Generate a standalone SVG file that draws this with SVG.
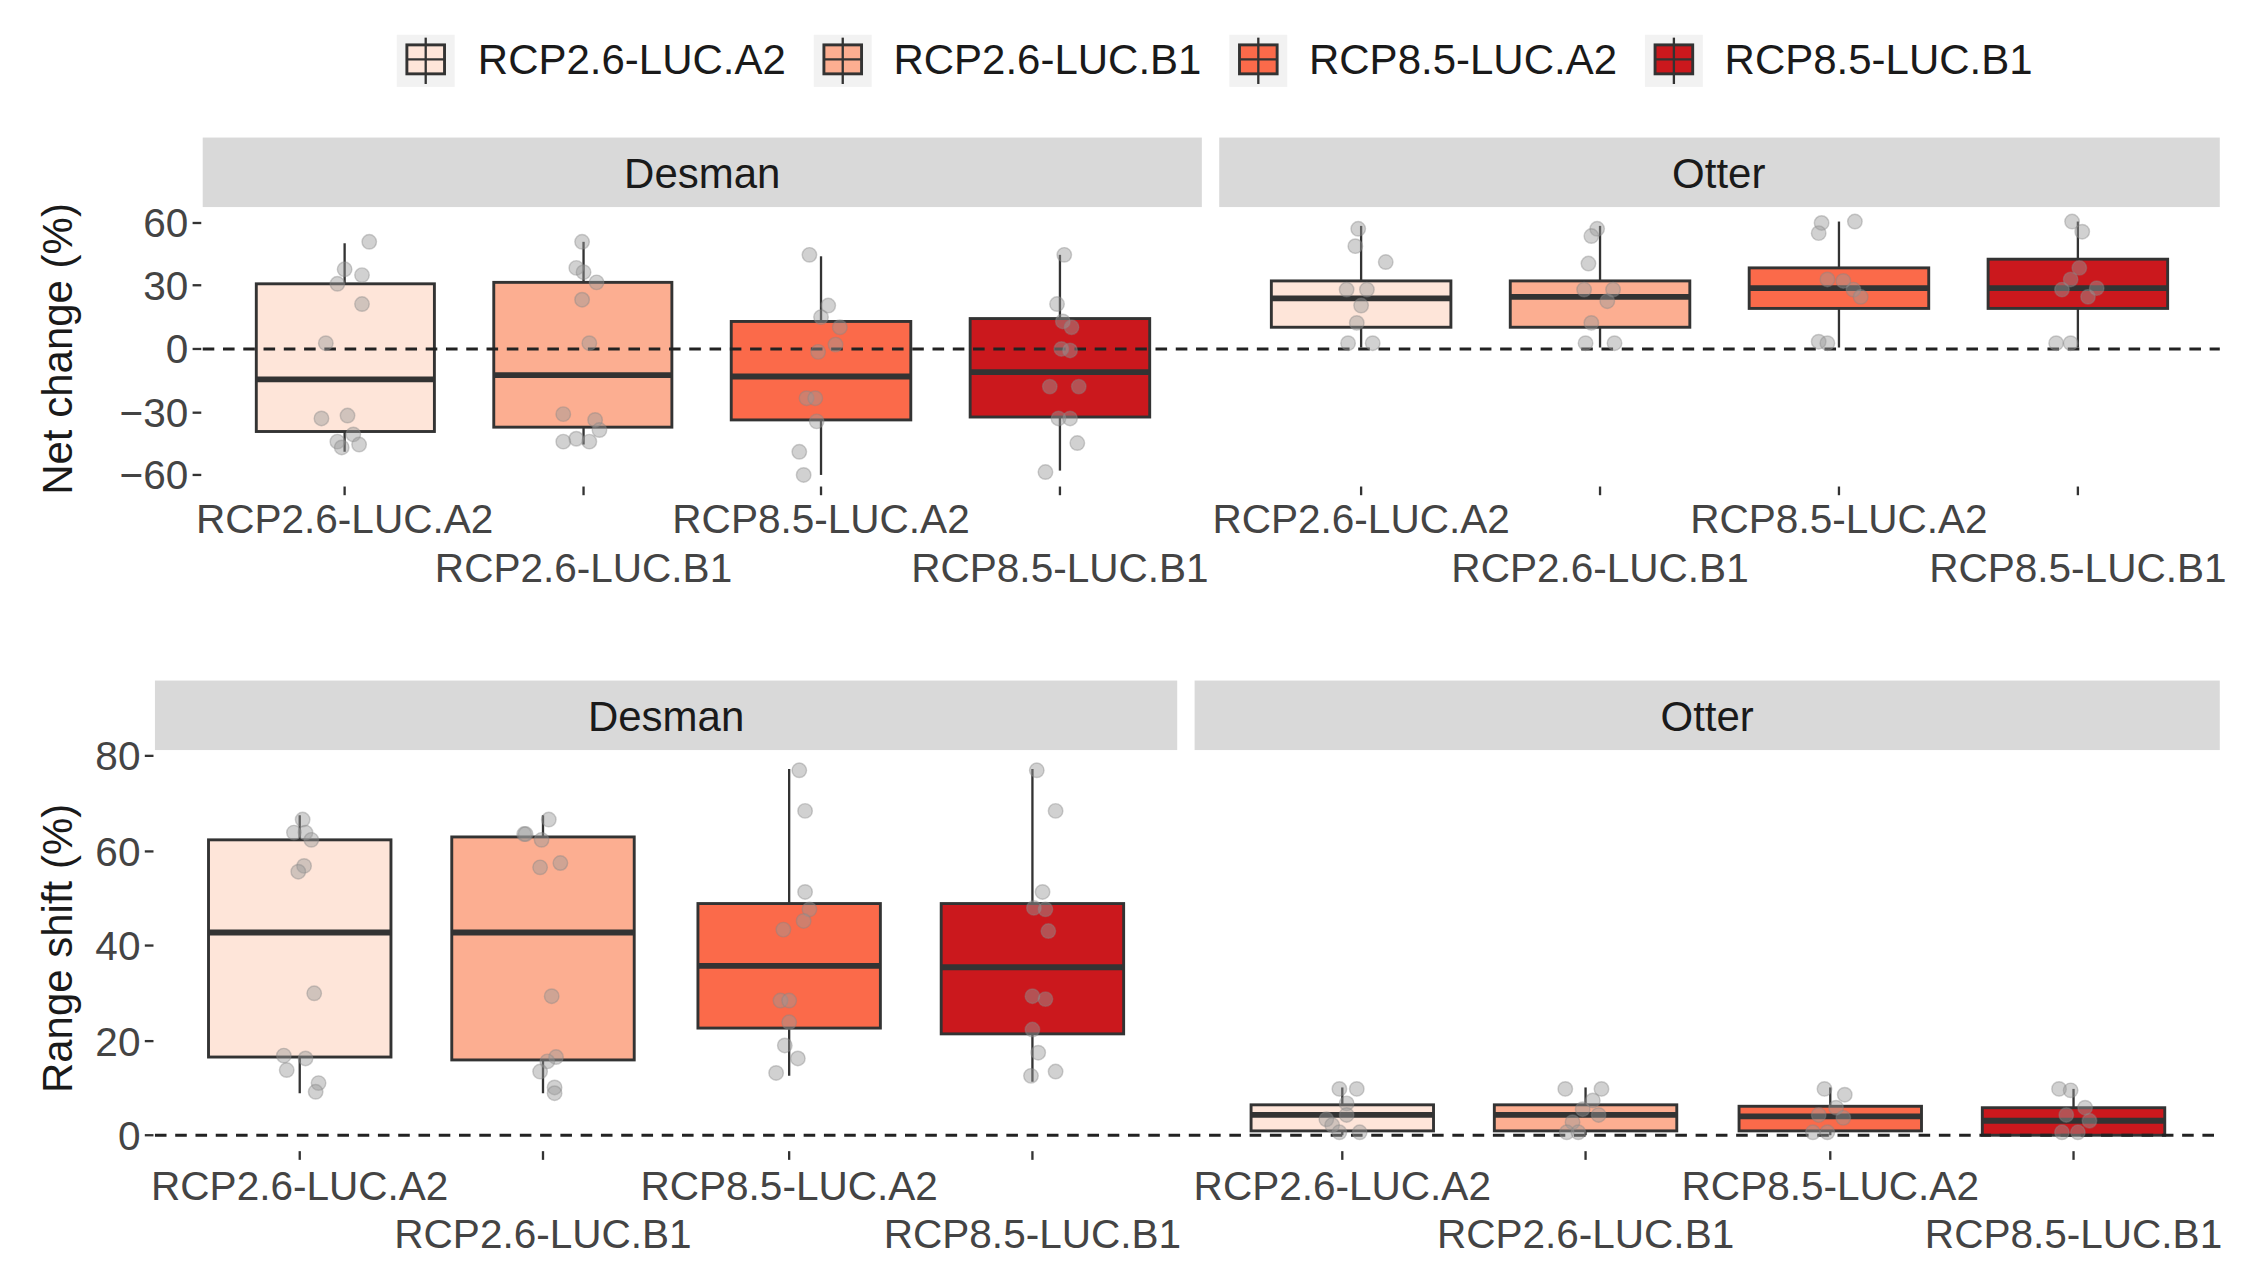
<svg xmlns="http://www.w3.org/2000/svg" width="2259" height="1281" viewBox="0 0 2259 1281">
<style>
text{font-family:"Liberation Sans",Arial,sans-serif;}
.t{font-size:28px;fill:#444;}
.s{font-size:29px;fill:#1a1a1a;}
.lg{font-size:29px;fill:#1a1a1a;}
.strip{fill:#d9d9d9;}
.b{stroke:#333;stroke-width:2;}
.med{stroke:#333;stroke-width:4;}
.w{stroke:#333;stroke-width:1.6;}
.tk{stroke:#333;stroke-width:1.6;}
.zero{stroke:#222;stroke-width:2;stroke-dasharray:8,6;fill:none;}
.p{fill:#999;fill-opacity:0.45;stroke:#888;stroke-opacity:0.4;}
.c1{fill:#FEE5D9}.c2{fill:#FCAE91}.c3{fill:#FB6A4A}.c4{fill:#CB181D}
</style>
<rect width="2259" height="1281" fill="#fff"/>
<g transform="scale(1.448)">
<g id="legend">
<rect x="274" y="24" width="40" height="36" fill="#f2f2f2"/><rect x="281" y="31" width="26" height="20" class="c1 b"/><line x1="281" y1="41" x2="307" y2="41" class="w"/><line x1="294" y1="26" x2="294" y2="58" class="w"/>
<text x="330" y="51" class="lg">RCP2.6-LUC.A2</text>
<rect x="562" y="24" width="40" height="36" fill="#f2f2f2"/><rect x="569" y="31" width="26" height="20" class="c2 b"/><line x1="569" y1="41" x2="595" y2="41" class="w"/><line x1="582" y1="26" x2="582" y2="58" class="w"/>
<text x="617" y="51" class="lg">RCP2.6-LUC.B1</text>
<rect x="849" y="24" width="40" height="36" fill="#f2f2f2"/><rect x="856" y="31" width="26" height="20" class="c3 b"/><line x1="856" y1="41" x2="882" y2="41" class="w"/><line x1="869" y1="26" x2="869" y2="58" class="w"/>
<text x="904" y="51" class="lg">RCP8.5-LUC.A2</text>
<rect x="1136" y="24" width="40" height="36" fill="#f2f2f2"/><rect x="1143" y="31" width="26" height="20" class="c4 b"/><line x1="1143" y1="41" x2="1169" y2="41" class="w"/><line x1="1156" y1="26" x2="1156" y2="58" class="w"/>
<text x="1191" y="51" class="lg">RCP8.5-LUC.B1</text>
</g>

<g id="top-panel">
<rect x="140" y="95" width="690" height="48" class="strip"/>
<text x="485" y="130" class="s" text-anchor="middle">Desman</text>
<rect x="842" y="95" width="691" height="48" class="strip"/>
<text x="1187" y="130" class="s" text-anchor="middle">Otter</text>
<text transform="translate(50,241) rotate(-90)" class="s" text-anchor="middle">Net change (%)</text>
<g class="t" text-anchor="end">
<text x="130" y="164">60</text><text x="130" y="207">30</text><text x="130" y="251">0</text><text x="130" y="295">−30</text><text x="130" y="338">−60</text>
</g>
<g class="tk"><line x1="133" y1="154" x2="139" y2="154"/><line x1="133" y1="197" x2="139" y2="197"/><line x1="133" y1="241" x2="139" y2="241"/><line x1="133" y1="285" x2="139" y2="285"/><line x1="133" y1="328" x2="139" y2="328"/>
<line x1="238" y1="336" x2="238" y2="342"/><line x1="403" y1="336" x2="403" y2="342"/><line x1="567" y1="336" x2="567" y2="342"/><line x1="732" y1="336" x2="732" y2="342"/>
<line x1="940" y1="336" x2="940" y2="342"/><line x1="1105" y1="336" x2="1105" y2="342"/><line x1="1270" y1="336" x2="1270" y2="342"/><line x1="1435" y1="336" x2="1435" y2="342"/></g>
<g class="t" text-anchor="middle">
<text x="238" y="368">RCP2.6-LUC.A2</text><text x="403" y="402">RCP2.6-LUC.B1</text><text x="567" y="368">RCP8.5-LUC.A2</text><text x="732" y="402">RCP8.5-LUC.B1</text>
<text x="940" y="368">RCP2.6-LUC.A2</text><text x="1105" y="402">RCP2.6-LUC.B1</text><text x="1270" y="368">RCP8.5-LUC.A2</text><text x="1435" y="402">RCP8.5-LUC.B1</text>
</g>
<g id="top-desman-boxes">
<line x1="238" y1="168" x2="238" y2="312" class="w"/><rect x="177" y="196" width="123" height="102" class="c1 b"/><line x1="177" y1="262" x2="300" y2="262" class="med"/>
<line x1="403" y1="167" x2="403" y2="307" class="w"/><rect x="341" y="195" width="123" height="100" class="c2 b"/><line x1="341" y1="259" x2="464" y2="259" class="med"/>
<line x1="567" y1="177" x2="567" y2="328" class="w"/><rect x="505" y="222" width="124" height="68" class="c3 b"/><line x1="505" y1="260" x2="629" y2="260" class="med"/>
<line x1="732" y1="176" x2="732" y2="325" class="w"/><rect x="670" y="220" width="124" height="68" class="c4 b"/><line x1="670" y1="257" x2="794" y2="257" class="med"/>
</g>
<g id="top-otter-boxes">
<line x1="940" y1="156" x2="940" y2="240" class="w"/><rect x="878" y="194" width="124" height="32" class="c1 b"/><line x1="878" y1="206" x2="1002" y2="206" class="med"/>
<line x1="1105" y1="156" x2="1105" y2="240" class="w"/><rect x="1043" y="194" width="124" height="32" class="c2 b"/><line x1="1043" y1="205" x2="1167" y2="205" class="med"/>
<line x1="1270" y1="153" x2="1270" y2="240" class="w"/><rect x="1208" y="185" width="124" height="28" class="c3 b"/><line x1="1208" y1="199" x2="1332" y2="199" class="med"/>
<line x1="1435" y1="153" x2="1435" y2="240" class="w"/><rect x="1373" y="179" width="124" height="34" class="c4 b"/><line x1="1373" y1="199" x2="1497" y2="199" class="med"/>
</g>
<line x1="140" y1="241" x2="1533" y2="241" class="zero"/>
<g id="top-points">
<circle cx="255" cy="167" r="5" class="p"/><circle cx="238" cy="186" r="5" class="p"/><circle cx="250" cy="190" r="5" class="p"/><circle cx="233" cy="196" r="5" class="p"/><circle cx="250" cy="210" r="5" class="p"/><circle cx="225" cy="237" r="5" class="p"/><circle cx="222" cy="289" r="5" class="p"/><circle cx="240" cy="287" r="5" class="p"/><circle cx="244" cy="300" r="5" class="p"/><circle cx="233" cy="305" r="5" class="p"/><circle cx="248" cy="307" r="5" class="p"/><circle cx="236" cy="309" r="5" class="p"/>
<circle cx="402" cy="167" r="5" class="p"/><circle cx="398" cy="185" r="5" class="p"/><circle cx="403" cy="188" r="5" class="p"/><circle cx="412" cy="195" r="5" class="p"/><circle cx="402" cy="207" r="5" class="p"/><circle cx="407" cy="237" r="5" class="p"/><circle cx="389" cy="286" r="5" class="p"/><circle cx="411" cy="290" r="5" class="p"/><circle cx="414" cy="297" r="5" class="p"/><circle cx="398" cy="303" r="5" class="p"/><circle cx="389" cy="305" r="5" class="p"/><circle cx="407" cy="305" r="5" class="p"/>
<circle cx="559" cy="176" r="5" class="p"/><circle cx="572" cy="211" r="5" class="p"/><circle cx="567" cy="219" r="5" class="p"/><circle cx="580" cy="226" r="5" class="p"/><circle cx="565" cy="243" r="5" class="p"/><circle cx="577" cy="238" r="5" class="p"/><circle cx="557" cy="275" r="5" class="p"/><circle cx="563" cy="275" r="5" class="p"/><circle cx="564" cy="291" r="5" class="p"/><circle cx="552" cy="312" r="5" class="p"/><circle cx="555" cy="328" r="5" class="p"/>
<circle cx="735" cy="176" r="5" class="p"/><circle cx="730" cy="210" r="5" class="p"/><circle cx="734" cy="222" r="5" class="p"/><circle cx="740" cy="226" r="5" class="p"/><circle cx="739" cy="242" r="5" class="p"/><circle cx="733" cy="241" r="5" class="p"/><circle cx="725" cy="267" r="5" class="p"/><circle cx="745" cy="267" r="5" class="p"/><circle cx="731" cy="289" r="5" class="p"/><circle cx="739" cy="289" r="5" class="p"/><circle cx="744" cy="306" r="5" class="p"/><circle cx="722" cy="326" r="5" class="p"/>
<circle cx="938" cy="158" r="5" class="p"/><circle cx="936" cy="170" r="5" class="p"/><circle cx="957" cy="181" r="5" class="p"/><circle cx="930" cy="200" r="5" class="p"/><circle cx="944" cy="200" r="5" class="p"/><circle cx="940" cy="211" r="5" class="p"/><circle cx="937" cy="223" r="5" class="p"/><circle cx="931" cy="237" r="5" class="p"/><circle cx="948" cy="237" r="5" class="p"/>
<circle cx="1103" cy="158" r="5" class="p"/><circle cx="1099" cy="163" r="5" class="p"/><circle cx="1097" cy="182" r="5" class="p"/><circle cx="1094" cy="200" r="5" class="p"/><circle cx="1114" cy="200" r="5" class="p"/><circle cx="1110" cy="208" r="5" class="p"/><circle cx="1099" cy="223" r="5" class="p"/><circle cx="1095" cy="237" r="5" class="p"/><circle cx="1115" cy="237" r="5" class="p"/>
<circle cx="1258" cy="154" r="5" class="p"/><circle cx="1281" cy="153" r="5" class="p"/><circle cx="1256" cy="161" r="5" class="p"/><circle cx="1262" cy="193" r="5" class="p"/><circle cx="1273" cy="194" r="5" class="p"/><circle cx="1280" cy="200" r="5" class="p"/><circle cx="1285" cy="205" r="5" class="p"/><circle cx="1256" cy="236" r="5" class="p"/><circle cx="1262" cy="237" r="5" class="p"/>
<circle cx="1431" cy="153" r="5" class="p"/><circle cx="1438" cy="160" r="5" class="p"/><circle cx="1436" cy="185" r="5" class="p"/><circle cx="1430" cy="193" r="5" class="p"/><circle cx="1424" cy="200" r="5" class="p"/><circle cx="1448" cy="199" r="5" class="p"/><circle cx="1442" cy="205" r="5" class="p"/><circle cx="1420" cy="237" r="5" class="p"/><circle cx="1430" cy="237" r="5" class="p"/>
</g>
</g>

<g id="bottom-panel">
<rect x="107" y="470" width="706" height="48" class="strip"/>
<text x="460" y="505" class="s" text-anchor="middle">Desman</text>
<rect x="825" y="470" width="708" height="48" class="strip"/>
<text x="1179" y="505" class="s" text-anchor="middle">Otter</text>
<text transform="translate(50,655) rotate(-90)" class="s" text-anchor="middle">Range shift (%)</text>
<g class="t" text-anchor="end">
<text x="97" y="532">80</text><text x="97" y="598">60</text><text x="97" y="663">40</text><text x="97" y="729">20</text><text x="97" y="794">0</text>
</g>
<g class="tk"><line x1="100" y1="522" x2="106" y2="522"/><line x1="100" y1="588" x2="106" y2="588"/><line x1="100" y1="653" x2="106" y2="653"/><line x1="100" y1="719" x2="106" y2="719"/><line x1="100" y1="784" x2="106" y2="784"/>
<line x1="207" y1="795" x2="207" y2="801"/><line x1="375" y1="795" x2="375" y2="801"/><line x1="545" y1="795" x2="545" y2="801"/><line x1="713" y1="795" x2="713" y2="801"/>
<line x1="927" y1="795" x2="927" y2="801"/><line x1="1095" y1="795" x2="1095" y2="801"/><line x1="1264" y1="795" x2="1264" y2="801"/><line x1="1432" y1="795" x2="1432" y2="801"/></g>
<g class="t" text-anchor="middle">
<text x="207" y="829">RCP2.6-LUC.A2</text><text x="375" y="862">RCP2.6-LUC.B1</text><text x="545" y="829">RCP8.5-LUC.A2</text><text x="713" y="862">RCP8.5-LUC.B1</text>
<text x="927" y="829">RCP2.6-LUC.A2</text><text x="1095" y="862">RCP2.6-LUC.B1</text><text x="1264" y="829">RCP8.5-LUC.A2</text><text x="1432" y="862">RCP8.5-LUC.B1</text>
</g>
<g id="bottom-desman-boxes">
<line x1="207" y1="563" x2="207" y2="755" class="w"/><rect x="144" y="580" width="126" height="150" class="c1 b"/><line x1="144" y1="644" x2="270" y2="644" class="med"/>
<line x1="375" y1="563" x2="375" y2="755" class="w"/><rect x="312" y="578" width="126" height="154" class="c2 b"/><line x1="312" y1="644" x2="438" y2="644" class="med"/>
<line x1="545" y1="531" x2="545" y2="743" class="w"/><rect x="482" y="624" width="126" height="86" class="c3 b"/><line x1="482" y1="667" x2="608" y2="667" class="med"/>
<line x1="713" y1="531" x2="713" y2="747" class="w"/><rect x="650" y="624" width="126" height="90" class="c4 b"/><line x1="650" y1="668" x2="776" y2="668" class="med"/>
</g>
<g id="bottom-otter-boxes">
<line x1="927" y1="751" x2="927" y2="784" class="w"/><rect x="864" y="763" width="126" height="18" class="c1 b"/><line x1="864" y1="770" x2="990" y2="770" class="med"/>
<line x1="1095" y1="751" x2="1095" y2="784" class="w"/><rect x="1032" y="763" width="126" height="18" class="c2 b"/><line x1="1032" y1="770" x2="1158" y2="770" class="med"/>
<line x1="1264" y1="751" x2="1264" y2="784" class="w"/><rect x="1201" y="764" width="126" height="17" class="c3 b"/><line x1="1201" y1="771" x2="1327" y2="771" class="med"/>
<line x1="1432" y1="752" x2="1432" y2="784" class="w"/><rect x="1369" y="765" width="126" height="19" class="c4 b"/><line x1="1369" y1="774" x2="1495" y2="774" class="med"/>
</g>
<line x1="107" y1="784" x2="1533" y2="784" class="zero"/>
<g id="bottom-points">
<circle cx="209" cy="566" r="5" class="p"/><circle cx="203" cy="575" r="5" class="p"/><circle cx="211" cy="575" r="5" class="p"/><circle cx="215" cy="580" r="5" class="p"/><circle cx="210" cy="598" r="5" class="p"/><circle cx="206" cy="602" r="5" class="p"/><circle cx="217" cy="686" r="5" class="p"/><circle cx="196" cy="729" r="5" class="p"/><circle cx="211" cy="731" r="5" class="p"/><circle cx="198" cy="739" r="5" class="p"/><circle cx="220" cy="748" r="5" class="p"/><circle cx="218" cy="754" r="5" class="p"/>
<circle cx="379" cy="566" r="5" class="p"/><circle cx="362" cy="576" r="5" class="p"/><circle cx="363" cy="576" r="5" class="p"/><circle cx="374" cy="580" r="5" class="p"/><circle cx="387" cy="596" r="5" class="p"/><circle cx="373" cy="599" r="5" class="p"/><circle cx="381" cy="688" r="5" class="p"/><circle cx="384" cy="730" r="5" class="p"/><circle cx="378" cy="733" r="5" class="p"/><circle cx="373" cy="740" r="5" class="p"/><circle cx="383" cy="751" r="5" class="p"/><circle cx="383" cy="755" r="5" class="p"/>
<circle cx="552" cy="532" r="5" class="p"/><circle cx="556" cy="560" r="5" class="p"/><circle cx="556" cy="616" r="5" class="p"/><circle cx="559" cy="628" r="5" class="p"/><circle cx="555" cy="636" r="5" class="p"/><circle cx="541" cy="642" r="5" class="p"/><circle cx="539" cy="691" r="5" class="p"/><circle cx="545" cy="691" r="5" class="p"/><circle cx="545" cy="706" r="5" class="p"/><circle cx="542" cy="722" r="5" class="p"/><circle cx="551" cy="731" r="5" class="p"/><circle cx="536" cy="741" r="5" class="p"/>
<circle cx="716" cy="532" r="5" class="p"/><circle cx="729" cy="560" r="5" class="p"/><circle cx="720" cy="616" r="5" class="p"/><circle cx="714" cy="627" r="5" class="p"/><circle cx="722" cy="628" r="5" class="p"/><circle cx="724" cy="643" r="5" class="p"/><circle cx="713" cy="688" r="5" class="p"/><circle cx="722" cy="690" r="5" class="p"/><circle cx="713" cy="711" r="5" class="p"/><circle cx="717" cy="727" r="5" class="p"/><circle cx="729" cy="740" r="5" class="p"/><circle cx="712" cy="743" r="5" class="p"/>
<circle cx="925" cy="752" r="5" class="p"/><circle cx="937" cy="752" r="5" class="p"/><circle cx="930" cy="762" r="5" class="p"/><circle cx="916" cy="773" r="5" class="p"/><circle cx="920" cy="777" r="5" class="p"/><circle cx="925" cy="782" r="5" class="p"/><circle cx="939" cy="782" r="5" class="p"/><circle cx="930" cy="770" r="5" class="p"/>
<circle cx="1081" cy="752" r="5" class="p"/><circle cx="1106" cy="752" r="5" class="p"/><circle cx="1100" cy="760" r="5" class="p"/><circle cx="1093" cy="766" r="5" class="p"/><circle cx="1104" cy="770" r="5" class="p"/><circle cx="1086" cy="775" r="5" class="p"/><circle cx="1082" cy="782" r="5" class="p"/><circle cx="1090" cy="782" r="5" class="p"/>
<circle cx="1260" cy="752" r="5" class="p"/><circle cx="1274" cy="756" r="5" class="p"/><circle cx="1268" cy="765" r="5" class="p"/><circle cx="1256" cy="770" r="5" class="p"/><circle cx="1273" cy="772" r="5" class="p"/><circle cx="1252" cy="782" r="5" class="p"/><circle cx="1262" cy="782" r="5" class="p"/>
<circle cx="1422" cy="752" r="5" class="p"/><circle cx="1430" cy="753" r="5" class="p"/><circle cx="1440" cy="765" r="5" class="p"/><circle cx="1427" cy="770" r="5" class="p"/><circle cx="1443" cy="774" r="5" class="p"/><circle cx="1435" cy="782" r="5" class="p"/><circle cx="1424" cy="782" r="5" class="p"/>
</g>
</g>
</g>
</svg>
